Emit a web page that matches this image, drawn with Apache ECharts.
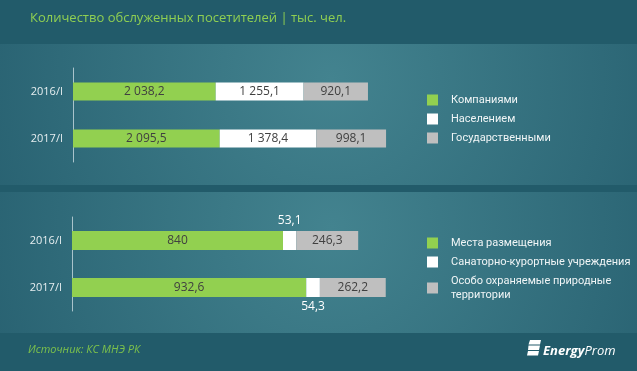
<!DOCTYPE html>
<html><head><meta charset="utf-8">
<script src="https://cdn.jsdelivr.net/npm/echarts@6/dist/echarts.min.js"></script>
<style>html,body{margin:0;padding:0;background:#225B6A}#c{width:637px;height:371px}</style>
</head><body><div id="c"></div>
<script>
const titleText = 'Количество обслуженных посетителей | тыс. чел.';
const sourceText = 'Источник: КС МНЭ РК';
const categories = ['2016/I', '2017/I'];

// top chart
const topNames = ['Компаниями', 'Населением', 'Государственными'];
const companies = [2038.2, 2095.5];
const population = [1255.1, 1378.4];
const stateOrg = [920.1, 998.1];

// bottom chart
const bottomNames = ['Места размещения', 'Санаторно-курортные учреждения', 'Особо охраняемые природные\nтерритории'];
const accommodation = [840, 932.6];
const sanatorium = [53.1, 54.3];
const protectedAreas = [246.3, 262.2];

const colors = ['#92D050', '#FFFFFF', '#BFBFBF'];
const FONT = 'Open Sans';
const LFONT = 'Roboto';

function fmt(v) {
  const neg = v < 0; v = Math.abs(v);
  let s = Number.isInteger(v) ? String(v) : v.toFixed(1);
  let [i, d] = s.split('.');
  i = i.replace(/\B(?=(\d{3})+(?!\d))/g, ' ');
  return (neg ? '-' : '') + i + (d ? ',' + d : '');
}

const chart = echarts.init(document.getElementById('c'), null, {renderer: 'canvas'});

function panelFill() {
  return new echarts.graphic.RadialGradient(0.52, 0.25, 2.7, [
    {offset: 0, color: '#43838F'},
    {offset: 1, color: '#276070'}
  ]);
}

const barLabel = {show: true, position: 'inside', color: '#404040', fontSize: 12, fontFamily: FONT, formatter: p => fmt(p.value)};

function yAxisCfg(gridIndex) {
  return {
    type: 'category', gridIndex, data: categories, inverse: true,
    axisLine: {show: true, lineStyle: {color: '#A9C3CB', width: 1}},
    axisTick: {show: false},
    axisLabel: {color: '#E6EEF0', fontSize: 11, fontFamily: FONT, margin: 10}
  };
}

const legendText = {color: '#F0F5F6', fontSize: 11, fontFamily: LFONT, lineHeight: 14, padding: [0, 0, 0, 8]};

const option = {
  backgroundColor: '#225B6A',
  animation: false,
  title: [
    {text: titleText, left: 30, top: 12, padding: 0,
     textStyle: {color: '#8FCF52', fontSize: 13, fontWeight: 'normal', fontFamily: FONT}},
    {text: sourceText, left: 28, top: 344, padding: 0,
     textStyle: {color: '#7DC24B', fontSize: 11, fontStyle: 'italic', fontWeight: 'normal', fontFamily: FONT}}
  ],
  graphic: [
    {type: 'rect', shape: {x: 0, y: 44, width: 637, height: 141}, style: {fill: panelFill()}, z: -10, silent: true},
    {type: 'rect', shape: {x: 0, y: 192, width: 637, height: 141}, style: {fill: panelFill()}, z: -10, silent: true},
    {type: 'group', x: 527, y: 340, children: [
      {type: 'polygon', shape: {points: [[3, 0], [14, 0], [13, 4.5], [1.5, 4.5]]}, style: {fill: '#FFFFFF'}},
      {type: 'polygon', shape: {points: [[1.5, 5.5], [13, 5.5], [12, 10], [1, 10]]}, style: {fill: '#FFFFFF'}},
      {type: 'polygon', shape: {points: [[1, 11], [12, 11], [11, 15.5], [0, 15.5]]}, style: {fill: '#FFFFFF'}}
    ]},
    {type: 'text', x: 543, y: 351, style: {
      text: '{a|Energy}{b|Prom}', verticalAlign: 'middle',
      rich: {
        a: {fill: '#FFFFFF', fontSize: 13, fontStyle: 'italic', fontWeight: 'bold', fontFamily: FONT},
        b: {fill: '#FFFFFF', fontSize: 13, fontStyle: 'italic', fontWeight: 'normal', fontFamily: FONT}
      }}}
  ],
  legend: [
    {orient: 'vertical', left: 422, top: 88, itemWidth: 11, itemHeight: 11, itemGap: 5, icon: 'rect',
     data: topNames, selectedMode: false, textStyle: legendText},
    {orient: 'vertical', left: 422, top: 231, itemWidth: 11, itemHeight: 11, itemGap: 5, icon: 'rect',
     selectedMode: false,
     data: [
       {name: bottomNames[0]},
       {name: bottomNames[1]},
       {name: bottomNames[2], textStyle: {padding: [7, 0, -7, 8]}}
     ],
     textStyle: legendText}
  ],
  grid: [
    {left: 73, top: 68, width: 320, height: 94},
    {left: 72, top: 217, width: 320, height: 94}
  ],
  xAxis: [
    {type: 'value', gridIndex: 0, min: 0, max: 4571, show: false},
    {type: 'value', gridIndex: 1, min: 0, max: 1274, show: false}
  ],
  yAxis: [yAxisCfg(0), yAxisCfg(1)],
  series: [
    {name: topNames[0], type: 'bar', stack: 't', xAxisIndex: 0, yAxisIndex: 0, barWidth: 18, data: companies, itemStyle: {color: colors[0]}, label: barLabel},
    {name: topNames[1], type: 'bar', stack: 't', xAxisIndex: 0, yAxisIndex: 0, barWidth: 18, data: population, itemStyle: {color: colors[1]}, label: barLabel},
    {name: topNames[2], type: 'bar', stack: 't', xAxisIndex: 0, yAxisIndex: 0, barWidth: 18, data: stateOrg, itemStyle: {color: colors[2]}, label: barLabel},
    {name: bottomNames[0], type: 'bar', stack: 'b', xAxisIndex: 1, yAxisIndex: 1, barWidth: 19, data: accommodation, itemStyle: {color: colors[0]}, label: barLabel},
    {name: bottomNames[1], type: 'bar', stack: 'b', xAxisIndex: 1, yAxisIndex: 1, barWidth: 19,
     data: sanatorium.map((v, i) => ({value: v, label: {position: i === 0 ? 'top' : 'bottom'}})),
     itemStyle: {color: colors[1]},
     label: {show: true, color: '#FFFFFF', fontSize: 12, fontFamily: FONT, distance: 4, formatter: p => fmt(p.value)}},
    {name: bottomNames[2], type: 'bar', stack: 'b', xAxisIndex: 1, yAxisIndex: 1, barWidth: 19, data: protectedAreas, itemStyle: {color: colors[2]}, label: barLabel}
  ]
};
chart.setOption(option);
</script>
</body></html>
